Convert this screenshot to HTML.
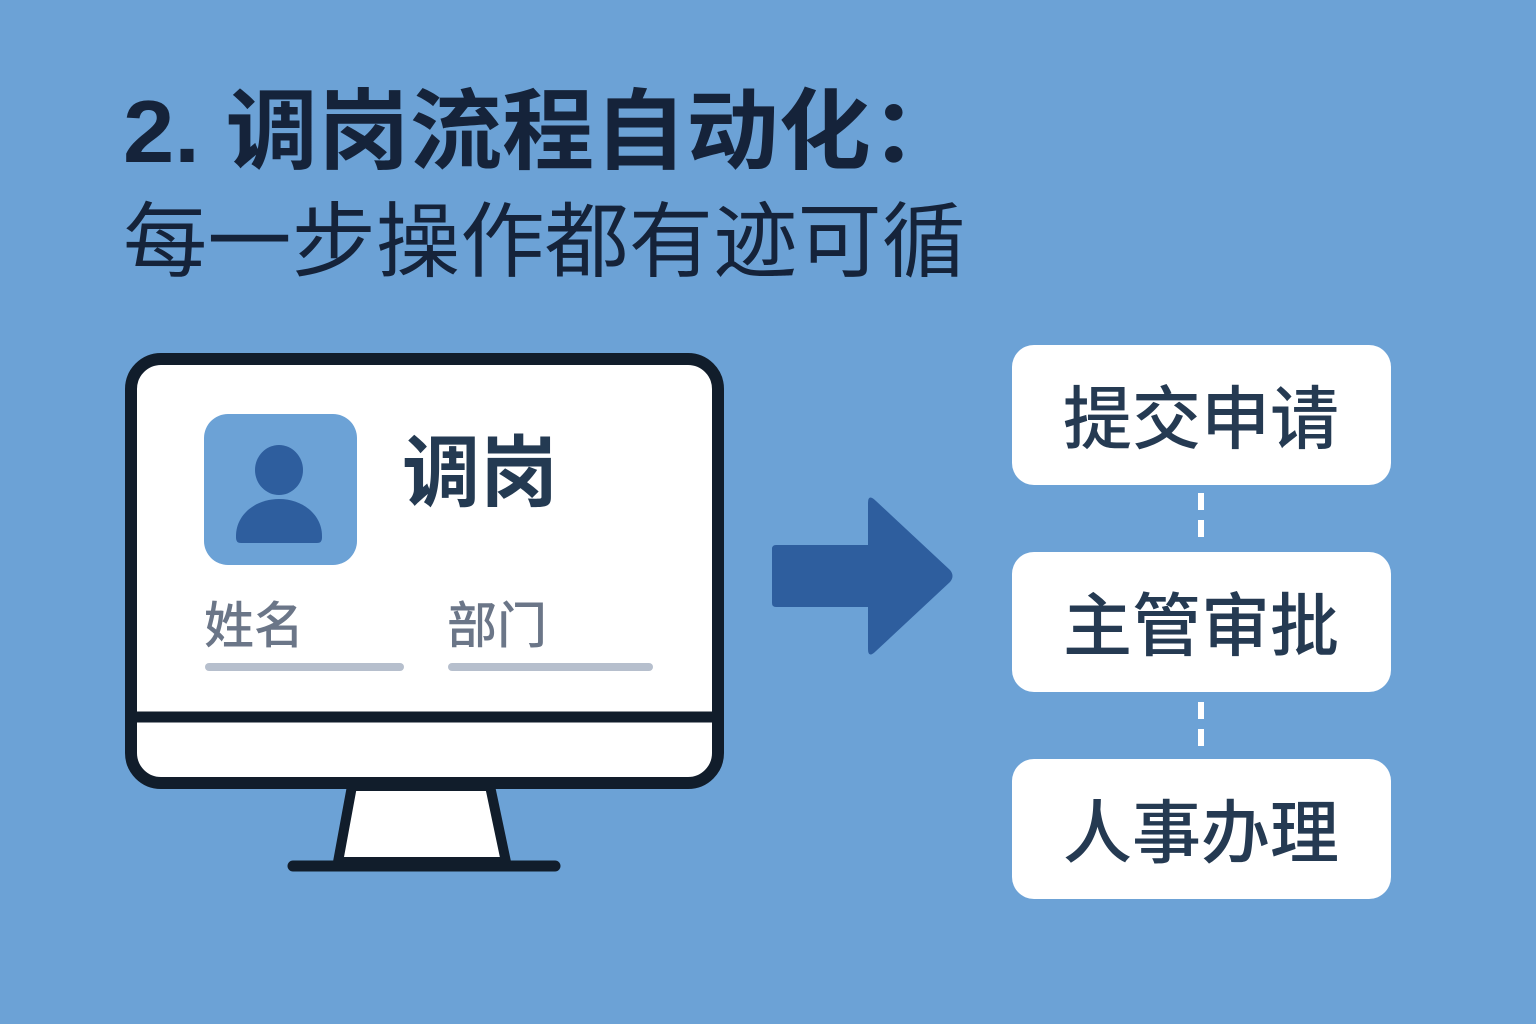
<!DOCTYPE html>
<html><head><meta charset="utf-8"><style>
html,body{margin:0;padding:0;background:#6ca2d6;}
svg{display:block}
text{font-family:"Liberation Sans","Noto Sans CJK SC",sans-serif;}
</style></head><body>
<svg width="1536" height="1024" viewBox="0 0 1536 1024" xmlns="http://www.w3.org/2000/svg">
<rect width="1536" height="1024" fill="#6ca2d6"/>
<text x="123" y="162" font-size="88" font-weight="700" fill="#15233a" textLength="840" lengthAdjust="spacingAndGlyphs">2. 调岗流程自动化：</text>
<text x="123" y="270" font-size="82" font-weight="400" fill="#15233a" textLength="843" lengthAdjust="spacingAndGlyphs">每一步操作都有迹可循</text>

<polygon points="352,786 490,786 506,862 338,862" fill="#ffffff" stroke="#111d2b" stroke-width="10" stroke-linejoin="round"/>
<line x1="293" y1="866" x2="555" y2="866" stroke="#111d2b" stroke-width="11" stroke-linecap="round"/>
<rect x="131" y="359" width="587" height="424" rx="30" fill="#ffffff" stroke="#111d2b" stroke-width="12"/>
<line x1="131" y1="717" x2="718" y2="717" stroke="#111d2b" stroke-width="11"/>

<rect x="204" y="414" width="153" height="151" rx="24" fill="#6ca2d6"/>
<ellipse cx="279" cy="470" rx="24" ry="25" fill="#2e5e9e"/>
<path d="M236,536 C236,515 255,499 279,499 C303,499 322,515 322,536 L322,538 Q322,543 317,543 L241,543 Q236,543 236,538 Z" fill="#2e5e9e"/>

<text x="402" y="500" font-size="78" font-weight="700" fill="#243a52">调岗</text>
<text x="204" y="643" font-size="50" font-weight="500" fill="#6b7688">姓名</text>
<text x="447" y="643" font-size="50" font-weight="500" fill="#6b7688">部门</text>
<line x1="209" y1="667" x2="400" y2="667" stroke="#b6bfcd" stroke-width="8" stroke-linecap="round"/>
<line x1="452" y1="667" x2="649" y2="667" stroke="#b6bfcd" stroke-width="8" stroke-linecap="round"/>

<path d="M776,545 L868,545 L868,503 Q868,493 876,501 L950,570 Q955,576 950,582 L876,651 Q868,659 868,649 L868,607 L776,607 Q772,607 772,603 L772,549 Q772,545 776,545 Z" fill="#2e5e9e"/>

<rect x="1012" y="345" width="379" height="140" rx="22" fill="#ffffff"/>
<rect x="1012" y="552" width="379" height="140" rx="22" fill="#ffffff"/>
<rect x="1012" y="759" width="379" height="140" rx="22" fill="#ffffff"/>
<line x1="1201" y1="493" x2="1201" y2="540" stroke="#ffffff" stroke-width="6" stroke-dasharray="17,10"/>
<line x1="1201" y1="702" x2="1201" y2="747" stroke="#ffffff" stroke-width="6" stroke-dasharray="17,10"/>
<text x="1201" y="443" font-size="69" font-weight="500" fill="#253a52" text-anchor="middle" textLength="276" lengthAdjust="spacingAndGlyphs">提交申请</text>
<text x="1201" y="650" font-size="69" font-weight="500" fill="#253a52" text-anchor="middle" textLength="276" lengthAdjust="spacingAndGlyphs">主管审批</text>
<text x="1201" y="857" font-size="69" font-weight="500" fill="#253a52" text-anchor="middle" textLength="276" lengthAdjust="spacingAndGlyphs">人事办理</text>
</svg>
</body></html>
